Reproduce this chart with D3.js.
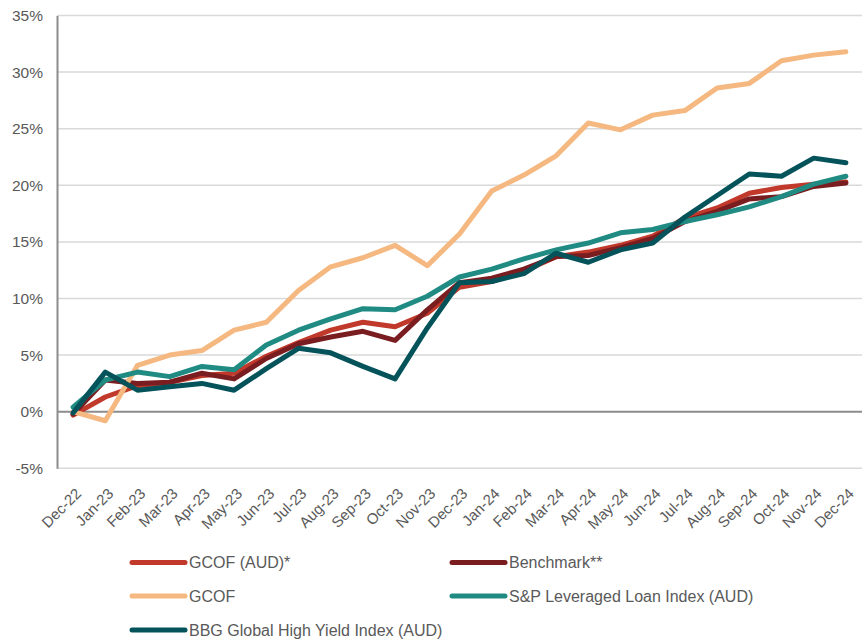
<!DOCTYPE html>
<html>
<head>
<meta charset="utf-8">
<script src="https://cdn.jsdelivr.net/npm/d3@7"></script>
<style>
html,body{margin:0;padding:0;background:#fff;}
svg{display:block;}
</style>
</head>
<body>
<svg id="chart" width="864" height="642"></svg>
<script>
const months = ["Dec-22","Jan-23","Feb-23","Mar-23","Apr-23","May-23","Jun-23","Jul-23","Aug-23","Sep-23","Oct-23","Nov-23","Dec-23","Jan-24","Feb-24","Mar-24","Apr-24","May-24","Jun-24","Jul-24","Aug-24","Sep-24","Oct-24","Nov-24","Dec-24"];
const gcofAud = [-0.3, 1.3, 2.3, 2.6, 3.2, 3.4, 4.9, 6.1, 7.2, 7.9, 7.5, 8.7, 11.0, 11.5, 12.4, 13.7, 14.1, 14.7, 15.5, 17.1, 18.0, 19.3, 19.8, 20.1, 20.3];
const benchmark = [-0.2, 2.8, 2.5, 2.6, 3.4, 2.9, 4.7, 6.0, 6.6, 7.1, 6.3, 9.0, 11.4, 11.8, 12.6, 13.7, 13.8, 14.5, 15.3, 16.8, 17.7, 18.8, 19.0, 19.9, 20.2];
const gcof = [0.0, -0.8, 4.1, 5.0, 5.4, 7.2, 7.9, 10.7, 12.8, 13.6, 14.7, 12.9, 15.7, 19.5, 20.9, 22.6, 25.5, 24.9, 26.2, 26.6, 28.6, 29.0, 31.0, 31.5, 31.8];
const spLoan = [0.4, 2.8, 3.5, 3.1, 4.0, 3.7, 5.9, 7.2, 8.2, 9.1, 9.0, 10.2, 11.9, 12.6, 13.5, 14.3, 14.9, 15.8, 16.1, 16.8, 17.4, 18.1, 19.0, 20.1, 20.8];
const bbgHY = [-0.1, 3.5, 1.9, 2.2, 2.5, 1.9, 3.8, 5.6, 5.2, 4.0, 2.9, 7.4, 11.4, 11.5, 12.2, 14.0, 13.2, 14.3, 14.9, 17.2, 19.1, 21.0, 20.8, 22.4, 22.0];
const seriesNames = ["GCOF (AUD)*","Benchmark**","GCOF","S&P Leveraged Loan Index (AUD)","BBG Global High Yield Index (AUD)"];
const seriesColors = ["#c0392b","#7a1d20","#f4b880","#1f8b83","#04535a"];
const yTicks = [-5,0,5,10,15,20,25,30,35];

const series = [gcofAud, benchmark, gcof, spLoan, bbgHY].map((v,i)=>({name:seriesNames[i], color:seriesColors[i], values:v}));

const svg = d3.select("#chart");
const plotL = 57, plotR = 862, plotT = 15.5, plotB = 468.3;

const x = d3.scalePoint().domain(months).range([plotL, plotR]).padding(0.5);
const y = d3.scaleLinear().domain([-5, 35]).range([plotB, plotT]);

// gridlines
svg.append("g").selectAll("line").data(yTicks).join("line")
  .attr("x1", plotL).attr("x2", plotR)
  .attr("y1", d=>y(d)).attr("y2", d=>y(d))
  .attr("stroke", d=> d===0 ? "#8c8c8c" : "#d9d9d9")
  .attr("stroke-width", d=> d===0 ? 2 : 1.5);

// y axis
const yAxis = svg.append("g").attr("transform", `translate(${plotL},0)`)
  .call(d3.axisLeft(y).tickValues(yTicks).tickFormat(d=>d+"%").tickSize(0).tickPadding(14));
yAxis.select(".domain").attr("stroke","#8c8c8c").attr("stroke-width",2);
yAxis.selectAll("text").attr("font-family","Liberation Sans, Arial, sans-serif").attr("font-size","15.5px").attr("fill","#595959");

// x labels
svg.append("g").selectAll("text").data(months).join("text")
  .attr("transform", d=>`translate(${x(d)+9},${494.5}) rotate(-45)`)
  .attr("text-anchor","end")
  .attr("font-family","Liberation Sans, Arial, sans-serif")
  .attr("font-size","15px")
  .attr("fill","#595959")
  .text(d=>d);

// lines
const line = d3.line().x((d,i)=>x(months[i])).y(d=>y(d));
svg.append("g").selectAll("path").data(series).join("path")
  .attr("d", d=>line(d.values))
  .attr("fill","none")
  .attr("stroke", d=>d.color)
  .attr("stroke-width", 5)
  .attr("stroke-linejoin","round")
  .attr("stroke-linecap","round");

// legend
const legendPos = [[132,562.5],[452,562.5],[132,596],[452,596],[132,630]];
const lg = svg.append("g").selectAll("g").data(series).join("g")
  .attr("transform",(d,i)=>`translate(${legendPos[i][0]},${legendPos[i][1]})`);
lg.append("line").attr("x1",0).attr("x2",53).attr("y1",0).attr("y2",0)
  .attr("stroke",d=>d.color).attr("stroke-width",5).attr("stroke-linecap","round");
lg.append("text").attr("x",57).attr("y",0).attr("dy","0.35em")
  .attr("font-family","Liberation Sans, Arial, sans-serif")
  .attr("font-size","16px").attr("fill","#595959")
  .text(d=>d.name);
</script>
</body>
</html>
